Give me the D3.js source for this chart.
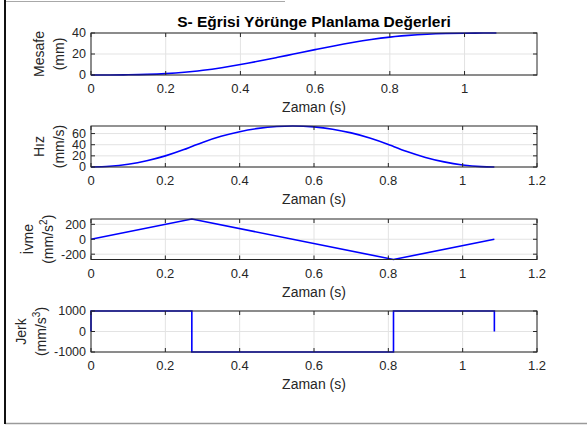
<!DOCTYPE html>
<html>
<head>
<meta charset="utf-8">
<script src="https://cdn.jsdelivr.net/npm/d3@7"></script>
<style>
  body { margin: 0; background: #fff; }
  svg { display: block; font-family: "Liberation Sans", Arial, sans-serif; }
</style>
</head>
<body>
<svg width="587" height="425"></svg>
<script>
// values
const zaman = [0, 0.05, 0.1, 0.15, 0.2, 0.25, 0.2713, 0.3, 0.35, 0.4, 0.45, 0.5, 0.5426,
  0.6, 0.65, 0.7, 0.75, 0.8, 0.8139, 0.85, 0.9, 0.95, 1.0, 1.05, 1.0853];
const mesafe = [0, 0.02, 0.17, 0.56, 1.33, 2.60, 3.33, 4.49, 6.98, 9.96, 13.29, 16.85, 19.97,
  24.16, 27.67, 30.90, 33.75, 36.07, 36.61, 37.77, 38.88, 39.52, 39.83, 39.93, 39.94];
const hiz = [0, 1.25, 5.0, 11.25, 20.0, 31.25, 36.80, 44.17, 55.05, 63.44, 69.31, 72.70, 73.60,
  71.95, 67.84, 61.21, 52.10, 40.47, 36.80, 27.68, 17.17, 9.15, 3.64, 0.62, 0];
const ivmeZaman = [0, 0.2713, 0.8139, 1.0853];
const ivme = [0, 271.3, -271.3, 0];
const jerkZaman = [0, 0, 0.2713, 0.2713, 0.8139, 0.8139, 1.0853, 1.0853];
const jerk = [0, 1000, 1000, -1000, -1000, 1000, 1000, 0];

const xTicksShort = [0, 0.2, 0.4, 0.6, 0.8, 1];
const xTicksLong = [0, 0.2, 0.4, 0.6, 0.8, 1, 1.2];

const title = "S- Eğrisi Yörünge Planlama Değerleri";
const xLabel = "Zaman (s)";

const svg = d3.select("svg");

// window frame
svg.append("line").attr("x1", 5).attr("x2", 285).attr("y1", 1.5).attr("y2", 1.5)
  .attr("stroke", "#a8a8a8").attr("stroke-width", 1);
svg.append("line").attr("x1", 5).attr("x2", 587).attr("y1", 423.5).attr("y2", 423.5)
  .attr("stroke", "#9a9a9a").attr("stroke-width", 1.5);
svg.append("line").attr("x1", 5).attr("x2", 5).attr("y1", 0).attr("y2", 424)
  .attr("stroke", "#111").attr("stroke-width", 2);

const left = 91, right = 537;

const panels = [
  { top: 33, bottom: 75, xs: zaman, ys: mesafe, xMax: 1.194, xTicks: xTicksShort,
    yDomain: [0, 40], yTicks: [0, 20, 40], label: ["Mesafe", "(mm)"], smooth: true },
  { top: 126, bottom: 167, xs: zaman, ys: hiz, xMax: 1.2, xTicks: xTicksLong,
    yDomain: [0, 73.6], yTicks: [0, 20, 40, 60], label: ["Hız", "(mm/s)"], smooth: true },
  { top: 219, bottom: 259.5, xs: ivmeZaman, ys: ivme, xMax: 1.2, xTicks: xTicksLong,
    yDomain: [-271.3, 271.3], yTicks: [-200, 0, 200], label: ["İvme", "(mm/s", "2", ")"] },
  { top: 311, bottom: 352, xs: jerkZaman, ys: jerk, xMax: 1.2, xTicks: xTicksLong,
    yDomain: [-1000, 1000], yTicks: [-1000, 0, 1000], label: ["Jerk", "(mm/s", "3", ")"] }
];

const axisColor = "#262626";
const gridColor = "#e3e3e3";
const tickLen = 4;

panels.forEach(p => {
  const x = d3.scaleLinear().domain([0, p.xMax]).range([left, right]);
  const y = d3.scaleLinear().domain(p.yDomain).range([p.bottom, p.top]);
  const g = svg.append("g");

  // grid
  g.selectAll(".gx").data(p.xTicks).enter().append("line")
    .attr("x1", d => x(d)).attr("x2", d => x(d))
    .attr("y1", p.top).attr("y2", p.bottom)
    .attr("stroke", gridColor).attr("stroke-width", 1);
  g.selectAll(".gy").data(p.yTicks).enter().append("line")
    .attr("x1", left).attr("x2", right)
    .attr("y1", d => y(d)).attr("y2", d => y(d))
    .attr("stroke", gridColor).attr("stroke-width", 1);

  // data line
  const line = d3.line()
    .x(d => x(d[0])).y(d => y(d[1]))
    .curve(p.smooth ? d3.curveMonotoneX : d3.curveLinear);
  g.append("path")
    .datum(p.xs.map((t, i) => [t, p.ys[i]]))
    .attr("d", line)
    .attr("fill", "none")
    .attr("stroke", "#0000ff")
    .attr("stroke-width", 1.6);

  // box
  g.append("rect")
    .attr("x", left).attr("y", p.top)
    .attr("width", right - left).attr("height", p.bottom - p.top)
    .attr("fill", "none").attr("stroke", axisColor).attr("stroke-width", 1);

  // inward ticks, all four sides
  p.xTicks.forEach(t => {
    g.append("line").attr("x1", x(t)).attr("x2", x(t))
      .attr("y1", p.bottom).attr("y2", p.bottom - tickLen).attr("stroke", axisColor);
    g.append("line").attr("x1", x(t)).attr("x2", x(t))
      .attr("y1", p.top).attr("y2", p.top + tickLen).attr("stroke", axisColor);
  });
  p.yTicks.forEach(t => {
    g.append("line").attr("x1", left).attr("x2", left + tickLen)
      .attr("y1", y(t)).attr("y2", y(t)).attr("stroke", axisColor);
    g.append("line").attr("x1", right).attr("x2", right - tickLen)
      .attr("y1", y(t)).attr("y2", y(t)).attr("stroke", axisColor);
  });

  // tick labels
  g.selectAll(".xl").data(p.xTicks).enter().append("text")
    .attr("x", d => x(d)).attr("y", p.bottom + 18)
    .attr("text-anchor", "middle")
    .attr("font-size", 13).attr("fill", axisColor)
    .text(d => d3.format("")(d));
  const yl = g.selectAll(".yl").data(p.yTicks).enter().append("text")
    .attr("x", left - 5).attr("y", d => y(d)).attr("dy", "0.35em")
    .attr("text-anchor", "end")
    .attr("font-size", 12.5).attr("fill", axisColor)
    .text(d => d);

  let minX = left;
  yl.each(function () { minX = Math.min(minX, this.getBBox().x); });

  // x label
  g.append("text")
    .attr("x", (left + right) / 2).attr("y", p.bottom + 37)
    .attr("text-anchor", "middle")
    .attr("font-size", 14).attr("fill", axisColor)
    .text(xLabel);

  // two-line y label
  const cy = (p.top + p.bottom) / 2;
  const c2 = minX - 13, c1 = c2 - 20;
  g.append("text")
    .attr("transform", `translate(${c1},${cy}) rotate(-90)`)
    .attr("dy", "0.35em").attr("text-anchor", "middle")
    .attr("font-size", 14).attr("fill", axisColor)
    .text(p.label[0]);
  const t2 = g.append("text")
    .attr("transform", `translate(${c2},${cy}) rotate(-90)`)
    .attr("dy", "0.35em").attr("text-anchor", "middle")
    .attr("font-size", 14).attr("fill", axisColor);
  t2.append("tspan").text(p.label[1]);
  if (p.label.length > 2) {
    t2.append("tspan").attr("font-size", 10).attr("dy", "-0.55em").text(p.label[2]);
    t2.append("tspan").attr("dy", "0.4em").text(p.label[3]);
  }
});

// title
svg.append("text")
  .attr("x", (left + right) / 2).attr("y", 27)
  .attr("text-anchor", "middle")
  .attr("font-size", 15.5).attr("font-weight", "bold").attr("fill", "#000")
  .text(title);
</script>
</body>
</html>
